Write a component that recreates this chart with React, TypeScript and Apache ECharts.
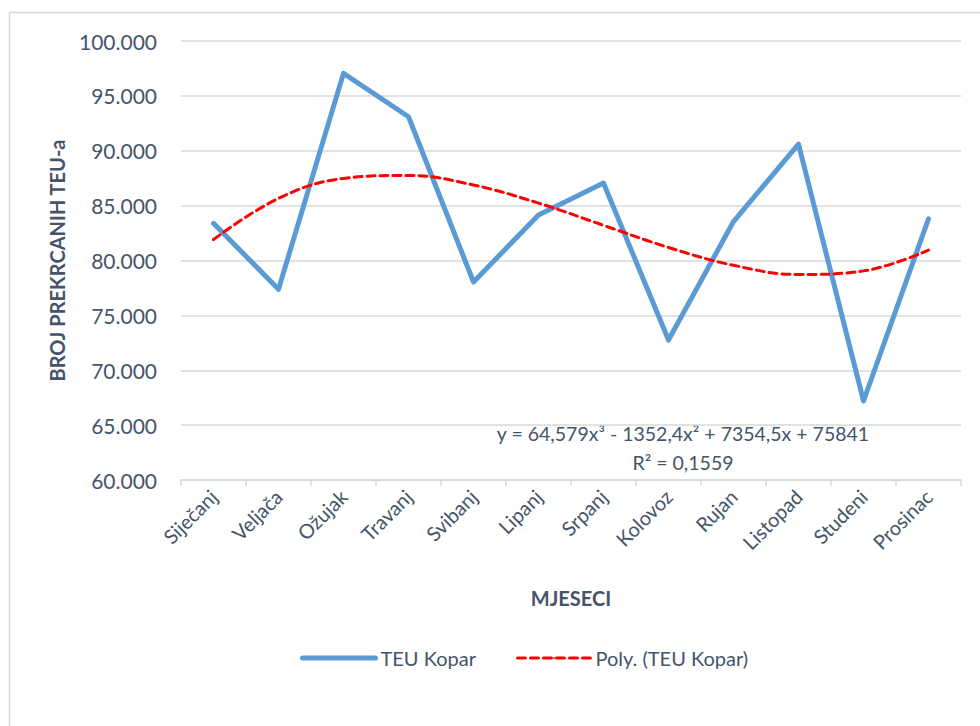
import React, { useEffect, useRef } from "react";
import * as echarts from "echarts";

const months = ["Siječanj", "Veljača", "Ožujak", "Travanj", "Svibanj", "Lipanj", "Srpanj", "Kolovoz", "Rujan", "Listopad", "Studeni", "Prosinac"];
const teuKopar = [83390, 77380, 97050, 93100, 78040, 84150, 87060, 72750, 83550, 90600, 67200, 83800];
const polyTrend = [81908, 85657, 87477, 87754, 86876, 85231, 83206, 81188, 79565, 78725, 79055, 80942];
const equationLine = "y = 64,579x³ - 1352,4x² + 7354,5x + 75841";
const r2Line = "R² = 0,1559";

const FONT = "Lato";
const TEXT = "#44546A";

export default function App() {
  const ref = useRef<HTMLDivElement>(null);
  useEffect(() => {
    if (!ref.current) return;
    const chart = echarts.init(ref.current, undefined, { renderer: "svg" });
    const fmt = (v: number) => {
      const s = String(Math.round(v));
      return s.replace(/\B(?=(\d{3})+(?!\d))/g, ".");
    };
    chart.setOption({
      animation: false,
      backgroundColor: "#ffffff",
      textStyle: { fontFamily: FONT },
      grid: { left: 181, right: 19, top: 41, bottom: 246, containLabel: false },
      legend: {
        left: 295,
        top: 643,
        itemWidth: 73,
        itemHeight: 2,
        itemGap: 40,
        textStyle: { fontFamily: FONT, fontSize: 20, color: TEXT },
        data: [
          { name: "TEU Kopar", lineStyle: { width: 5, cap: "round" } },
          { name: "Poly. (TEU Kopar)", lineStyle: { width: 3, type: [8, 5] } },
        ],
      },
      xAxis: {
        type: "category",
        data: months,
        boundaryGap: true,
        axisLine: { lineStyle: { color: "#D9D9D9", width: 1.5 } },
        axisTick: { show: true, length: 6, lineStyle: { color: "#D9D9D9", width: 1.5 } },
        axisLabel: { rotate: 45, fontFamily: FONT, fontSize: 20, color: TEXT, margin: 13, interval: 0 },
        name: "MJESECI",
        nameLocation: "middle",
        nameGap: 108,
        nameTextStyle: { fontFamily: FONT, fontSize: 20, fontWeight: "bold", color: TEXT },
      },
      yAxis: {
        type: "value",
        min: 60000,
        max: 100000,
        interval: 5000,
        axisLine: { show: false },
        axisTick: { show: false },
        splitLine: { lineStyle: { color: "#D9D9D9", width: 1.5 } },
        axisLabel: { fontFamily: FONT, fontSize: 21, color: TEXT, margin: 24, formatter: fmt },
        name: "BROJ PREKRCANIH TEU-a",
        nameLocation: "middle",
        nameGap: 114,
        nameRotate: 90,
        nameTextStyle: { fontFamily: FONT, fontSize: 20, fontWeight: "bold", color: TEXT },
      },
      series: [
        {
          name: "TEU Kopar",
          type: "line",
          data: teuKopar,
          symbol: "none",
          lineStyle: { color: "#5B9BD5", width: 5, cap: "round", join: "round" },
          itemStyle: { color: "#5B9BD5" },
          z: 2,
        },
        {
          name: "Poly. (TEU Kopar)",
          type: "line",
          data: polyTrend,
          symbol: "none",
          smooth: 0.4,
          lineStyle: { color: "#FF0000", width: 3, type: [8, 5], cap: "round" },
          itemStyle: { color: "#FF0000" },
          z: 3,
        },
      ],
      graphic: [
        {
          type: "rect",
          shape: { x: 9.5, y: 12.5, width: 1100, height: 1100 },
          style: { fill: "none", stroke: "#D9D9D9", lineWidth: 1.5 },
          silent: true,
        },
        {
          type: "text",
          x: 683,
          y: 433,
          style: { text: equationLine, fontFamily: FONT, fontSize: 19.5, fill: TEXT, align: "center", verticalAlign: "middle" },
        },
        {
          type: "text",
          x: 683,
          y: 462,
          style: { text: r2Line, fontFamily: FONT, fontSize: 19.5, fill: TEXT, align: "center", verticalAlign: "middle" },
        },
      ],
    });
    return () => chart.dispose();
  }, []);
  return <div ref={ref} style={{ width: 980, height: 726, position: "absolute", left: 0, top: 0 }} />;
}
